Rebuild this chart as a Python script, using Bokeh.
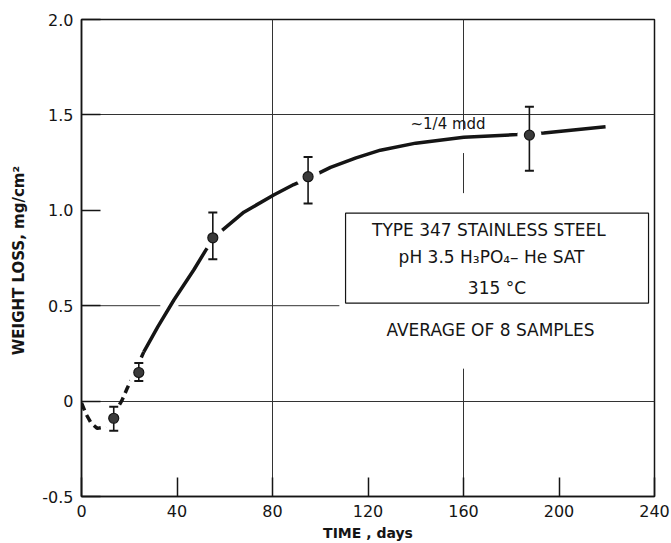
from bokeh.plotting import figure
from bokeh.models import FixedTicker, Label, BoxAnnotation, Range1d
from bokeh.embed import file_html
from bokeh.resources import INLINE

# ---- data ----
days = [13.5, 24.0, 55.0, 94.9, 187.6]
weight_loss = [-0.09, 0.15, 0.856, 1.176, 1.394]
err_low = [-0.155, 0.106, 0.744, 1.036, 1.207]
err_high = [-0.03, 0.20, 0.989, 1.28, 1.543]

curve_dashed_days = [0, 2, 4, 6.6, 9, 11, 14, 17, 19.1, 22, 26.1]
curve_dashed_loss = [-0.01, -0.07, -0.115, -0.143, -0.138, -0.124, -0.06, 0.005, 0.066, 0.145, 0.258]
curve_solid_days = [26.1, 32, 38.7, 47, 52, 55, 58.9, 68, 80.5, 88.9, 95, 99.4, 104.3,
                    115, 125.2, 140, 160.1, 182.5, 193.6, 205, 219.5]
curve_solid_loss = [0.258, 0.39, 0.53, 0.687, 0.79, 0.845, 0.895, 0.99, 1.08, 1.135, 1.168,
                    1.195, 1.225, 1.275, 1.315, 1.352, 1.383, 1.397, 1.405, 1.42, 1.438]

x_ticks = [0, 40, 80, 120, 160, 200, 240]
y_ticks = [-0.5, 0, 0.5, 1.0, 1.5, 2.0]
y_tick_labels = {-0.5: "-0.5", 0: "0", 0.5: "0.5", 1.0: "1.0", 1.5: "1.5", 2.0: "2.0"}

# partial grid lines (graph furniture)
grid_x0 = [160, 160, 160, 0, 40.6]
grid_y0 = [1.42, 1.09, -0.5, 0.5, 0.5]
grid_x1 = [160, 160, 160, 33, 108]
grid_y1 = [2.0, 1.30, 0.17, 0.5, 0.5]

FONT = "DejaVu Sans"
INK = "#151515"

p = figure(width=671, height=543, output_backend="svg", toolbar_location=None,
           x_range=Range1d(0, 240), y_range=Range1d(-0.5, 2.0),
           min_border_left=81, min_border_right=17, min_border_top=19, min_border_bottom=47)
p.background_fill_color = "white"
p.border_fill_color = "white"
p.outline_line_color = INK
p.outline_line_width = 1.5

for ax in (p.xaxis[0], p.yaxis[0]):
    ax.axis_line_color = INK
    ax.axis_line_width = 1.5
    ax.major_tick_in = 19
    ax.major_tick_out = 0
    ax.major_tick_line_color = INK
    ax.major_tick_line_width = 1.5
    ax.minor_tick_line_color = None
    ax.major_label_text_font = FONT
    ax.major_label_text_font_size = "16px"
    ax.major_label_text_color = INK
    ax.axis_label_text_font = FONT
    ax.axis_label_text_font_style = "bold"
    ax.axis_label_text_color = INK

p.xaxis.ticker = FixedTicker(ticks=x_ticks)
p.yaxis.ticker = FixedTicker(ticks=y_ticks)
p.yaxis.major_label_overrides = y_tick_labels
p.xaxis.major_label_standoff = 8
p.yaxis.major_label_standoff = 8
p.xaxis.axis_label = "TIME , days"
p.yaxis.axis_label = "WEIGHT  LOSS, mg/cm²"
p.xaxis.axis_label_text_font_size = "14px"
p.yaxis.axis_label_text_font_size = "15px"
p.xaxis.axis_label_standoff = 5
p.yaxis.axis_label_standoff = 11

p.xgrid.ticker = FixedTicker(ticks=[80])
p.ygrid.ticker = FixedTicker(ticks=[0, 1.5])
for g in (p.xgrid[0], p.ygrid[0]):
    g.grid_line_color = "#333333"
    g.grid_line_width = 1

p.segment(x0=grid_x0, y0=grid_y0, x1=grid_x1, y1=grid_y1, line_color="#333333", line_width=1)

# fitted curve
p.line(curve_dashed_days, curve_dashed_loss, line_color=INK, line_width=3.5, line_dash="8 5")
p.line(curve_solid_days, curve_solid_loss, line_color=INK, line_width=3.5)

# white halos leaving gaps in the curve around points
p.scatter(days, weight_loss, size=24, fill_color="white", line_color=None)

# error bars
p.segment(x0=days, y0=err_low, x1=days, y1=err_high, line_color=INK, line_width=1.6)
p.scatter(days, err_low, marker="dash", size=9, line_color=INK, line_width=2)
p.scatter(days, err_high, marker="dash", size=9, line_color=INK, line_width=2)

# points
p.scatter(days, weight_loss, size=10, fill_color="#3a3a3a", line_color=INK, line_width=1.2)

# annotations
box = BoxAnnotation(left=110.6, right=237.5, bottom=0.514, top=0.985,
                    fill_color="white", fill_alpha=1.0,
                    line_color=INK, line_alpha=1.0, line_width=1.2)
p.add_layout(box)

def lab(x, y, text, size="17px", align="center", baseline="middle"):
    p.add_layout(Label(x=x, y=y, text=text, text_font=FONT, text_font_size=size,
                       text_color=INK, text_align=align, text_baseline=baseline))

lab(174, 0.896, "TYPE  347  STAINLESS  STEEL")
lab(174, 0.755, "pH 3.5  H₃PO₄– He  SAT")
lab(174, 0.592, "315 °C")
lab(174.7, 0.372, "AVERAGE  OF  8  SAMPLES")
lab(137.8, 1.405, "~1/4 mdd", size="15px", align="left", baseline="bottom")

open("out.html", "w").write(file_html(p, INLINE))
